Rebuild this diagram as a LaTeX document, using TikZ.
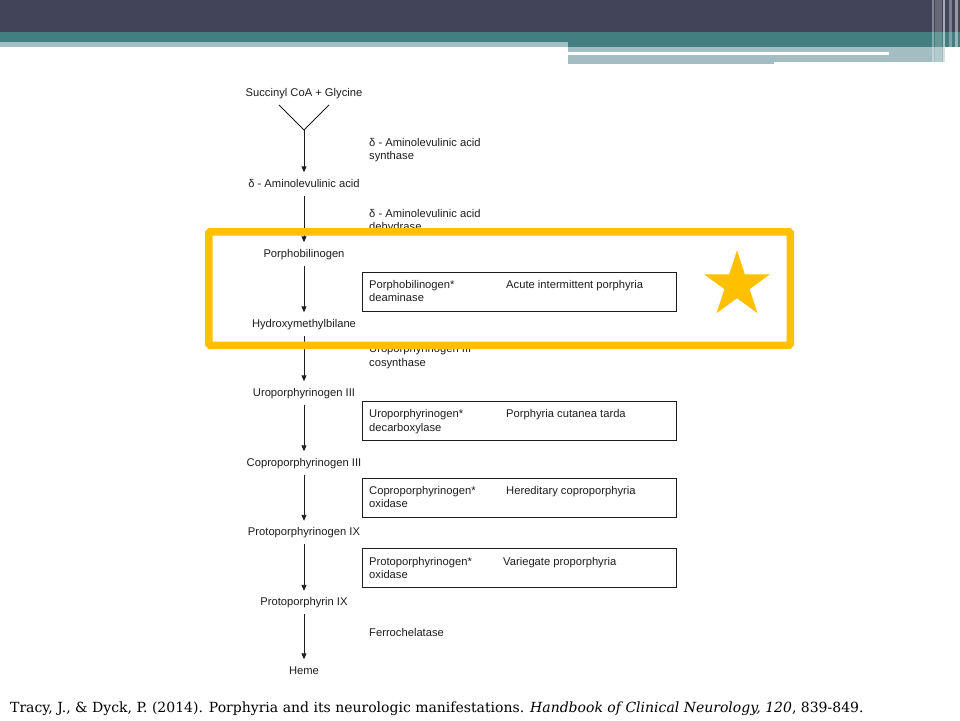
\documentclass[tikz,border=0pt]{standalone}
\usepackage{fontspec}
\setmainfont{Liberation Sans}
\newfontfamily\citefont{DejaVu Serif}
\usetikzlibrary{shapes.geometric,arrows.meta}
\definecolor{darkbar}{HTML}{42445A}
\definecolor{tealbar}{HTML}{437E80}
\definecolor{lightbar}{HTML}{A2BEC2}
\definecolor{hilite}{HTML}{FFC000}
\definecolor{ink}{HTML}{1E1E1E}
\begin{document}
\begin{tikzpicture}[x=1pt,y=-1pt,
  every node/.style={font=\fontsize{11.2}{13.5}\selectfont, text=ink},
  met/.style={inner xsep=2pt, inner ysep=6pt, text height=8.5pt, text depth=2.5pt, anchor=base},
  enz/.style={anchor=base west, align=left, inner sep=0pt},
  dis/.style={anchor=base west, inner sep=0pt},
  defbox/.style={draw=ink, line width=0.9pt, minimum width=314pt, minimum height=39pt, anchor=north west, inner sep=0pt},
  arr/.style={draw=ink, line width=0.9pt, -{Triangle[length=6pt,width=5pt]}},
  stripe/.style={fill=white, draw=none}
]
\useasboundingbox (0,0) rectangle (960,720);
\fill[white] (0,0) rectangle (960,720);
% header bars
\fill[darkbar] (0,0) rectangle (960,32);
\fill[tealbar] (0,32) rectangle (960,42);
\fill[lightbar] (0,42) rectangle (568,47);
\fill[tealbar] (568,42) rectangle (960,47);
\fill[lightbar] (568,47) rectangle (945,52);
\fill[white] (568,52) rectangle (889,55);
\fill[lightbar] (889,52) rectangle (945,55);
\fill[lightbar] (568,55) rectangle (774,64);
\fill[lightbar] (774,55) rectangle (945,62);
% right stripes
\fill[stripe, opacity=0.35] (932,0) rectangle (933.5,64);
\fill[stripe, opacity=0.2] (935,0) rectangle (942,64);
\fill[stripe, opacity=0.55] (943,0) rectangle (945,64);
\fill[stripe, opacity=0.3] (949,0) rectangle (952,64);
\fill[stripe, opacity=0.45] (955,0) rectangle (958,64);

% metabolites
\node[met] (m0) at (304,96) {Succinyl CoA + Glycine};
\node[met] (m1) at (304,187) {δ - Aminolevulinic acid};
\node[met] (m2) at (304,257) {Porphobilinogen};
\node[met] (m3) at (304,327) {Hydroxymethylbilane};
\node[met] (m4) at (304,396) {Uroporphyrinogen III};
\node[met] (m5) at (304,466) {Coproporphyrinogen III};
\node[met] (m6) at (304,535.5) {Protoporphyrinogen IX};
\node[met] (m7) at (304,605.5) {Protoporphyrin IX};
\node[met] (m8) at (304,674) {Heme};

% Y junction
\coordinate (yl) at (279,105);
\coordinate (yr) at (329,105);
\coordinate (yj) at (304,130);
\draw[ink, line width=0.9pt] (yl) -- (yj) -- (yr);
\draw[arr] (yj) -- (m1.north);
\draw[arr] (m1.south) -- (m2.north);
\draw[arr] (m2.south) -- (m3.north);
\draw[arr] (m3.south) -- (m4.north);
\draw[arr] (m4.south) -- (m5.north);
\draw[arr] (m5.south) -- (m6.north);
\draw[arr] (m6.south) -- (m7.north);
\draw[arr] (m7.south) -- (m8.north);

% enzymes without boxes (anchor = baseline of last line)
\node[enz] (e1) at (369,159.5) {δ - Aminolevulinic acid\\synthase};
\node[enz] (e2) at (369,230.5) {δ - Aminolevulinic acid\\dehydrase};
\node[enz] (e3) at (369,366) {Uroporphyrinogen III\\cosynthase};
\node[enz] (e8) at (369,636) {Ferrochelatase};

% boxed enzymes with diseases
\node[defbox] (b1) at (362,272) {};
\node[enz] (e4) at (369,301.5) {Porphobilinogen*\\deaminase};
\node[dis] (d4) at (506,288) {Acute intermittent porphyria};

\node[defbox] (b2) at (362,401) {};
\node[enz] (e5) at (369,431) {Uroporphyrinogen*\\decarboxylase};
\node[dis] (d5) at (506,417.5) {Porphyria cutanea tarda};

\node[defbox] (b3) at (362,478) {};
\node[enz] (e6) at (369,507.5) {Coproporphyrinogen*\\oxidase};
\node[dis] (d6) at (506,494) {Hereditary coproporphyria};

\node[defbox] (b4) at (362,548) {};
\node[enz] (e7) at (369,578.5) {Protoporphyrinogen*\\oxidase};
\node[dis] (d7) at (503,565) {Variegate proporphyria};

% highlight frame and star
\draw[hilite, line width=7.5pt, rounded corners=1.5pt] (208.75,231.75) rectangle (790.25,345.25);
\node[star, star points=5, star point ratio=2.618, fill=hilite, draw=none, inner sep=0pt, minimum size=69.5pt] (st) at (737,285) {};

% citation
\node[anchor=base west, inner sep=0pt, font=\citefont\fontsize{14}{17}\selectfont, text=black] (cite) at (10,712)
  {Tracy, J., \& Dyck, P. (2014). Porphyria and its neurologic manifestations. \textit{Handbook of Clinical Neurology, 120}, 839-849.};
\end{tikzpicture}
\end{document}
